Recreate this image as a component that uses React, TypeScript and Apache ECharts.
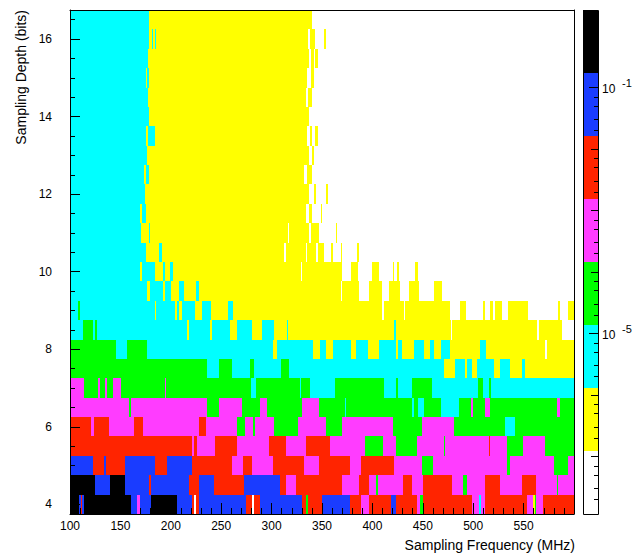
import React, { useEffect, useRef } from "react";
import * as echarts from "echarts";

// colour levels (ROOT COLZ palette, log z)
const W = 0, Y = 1, C = 2, G = 3, M = 4, R = 5, B = 6, K = 7;
const levelColors = ["#ffffff", "#ffff00", "#00ffff", "#00ff00", "#ff3cff", "#ff2400", "#1a3cff", "#000000"];

const freqMin = 100;
const freqMax = 600;
const depthMin = 3.75;
const depthMax = 16.75;
const depthHalf = 0.25;

const depthBins = [4.0, 4.5, 5.0, 5.5, 6.0, 6.5, 7.0, 7.5, 8.0, 8.5, 9.0, 9.5, 10.0, 10.5, 11.0, 11.5, 12.0, 12.5, 13.0, 13.5, 14.0, 14.5, 15.0, 15.5, 16.0, 16.5];

// per depth bin: runs of [start frequency (MHz), colour level]; each run lasts until the next start
const rowRuns: number[][][] = [
  // 4.0
  [[100, K], [108.5, B], [110.5, R], [112, B], [114, K], [160.3, B], [166.7, M], [169.2, B], [180, K], [206, B], [221.5, R], [223.2, W], [225, R], [228, B], [275, R], [280.5, W], [282.5, R], [288, B], [330, R], [334, G], [336.5, R], [350, B], [378, R], [389, M], [397, R], [418.5, B], [423.5, R], [444, M], [447.2, G], [450.5, R], [499, M], [505.5, C], [507.8, M], [512, R], [553, M], [559.2, Y], [561, G], [562.5, M], [569.7, R]],
  // 4.5
  [[100, K], [125, B], [139.7, K], [154.5, B], [178.7, R], [180.4, B], [218.2, R], [228, B], [243, R], [273, B], [308.2, R], [314.1, M], [324.7, R], [370.1, M], [387.2, R], [396.5, M], [403.7, G], [405.4, M], [430, R], [439.6, M], [450.5, R], [479.1, M], [490, G], [494, M], [512.1, R], [526.2, M], [548.3, R], [562.5, M], [582.9, G], [584.5, M]],
  // 5.0
  [[100, B], [122.4, R], [133.9, B], [135.6, R], [154.7, B], [184.3, R], [196.5, B], [221.2, R], [261, M], [272, R], [280.2, M], [300.9, R], [331.9, M], [347, R], [377.3, M], [388.9, R], [421.8, M], [449.5, G], [460, M], [534, G], [537, M], [580, G], [594.4, M]],
  // 5.5
  [[100, R], [221.2, M], [222.9, R], [226.2, M], [244.3, R], [266, M], [297.6, R], [314.1, M], [333.9, R], [357.6, M], [392.5, G], [410.9, M], [423, G], [443.9, M], [470.9, G], [472.5, M], [515.4, R], [517, M], [533.5, G], [549.9, M], [571.3, G]],
  // 6.0
  [[100, R], [120.8, M], [124.1, R], [138.9, M], [163.6, R], [172.5, M], [227.8, R], [235, M], [265.4, G], [273.6, M], [281.8, G], [283.5, M], [302.2, G], [326.3, M], [354.3, G], [370.1, M], [420.2, G], [449.5, M], [481.4, G], [531.8, C], [541.7, G]],
  // 6.5
  [[100, M], [158.6, G], [160.3, M], [236, G], [247.6, M], [270.3, G], [288.4, M], [295, G], [330.6, M], [347, G], [372.4, C], [374, G], [439.6, C], [441.2, G], [445.2, C], [451.1, G], [467.6, C], [485.7, G], [497.9, M], [499.9, G], [512.1, M], [516.3, G], [582.9, M], [586.2, G]],
  // 7.0
  [[100, M], [114.2, G], [127.3, M], [130, G], [134.9, M], [136.9, G], [142.2, M], [150.4, G], [194.2, M], [195.2, G], [279.2, C], [284.5, G], [328, C], [329.6, G], [338.5, C], [362.5, G], [411.9, C], [423.5, G], [425, C], [439.6, G], [459.4, C], [504.5, G], [509.8, C], [515.4, G], [517.7, C]],
  // 7.5
  [[100, G], [236, C], [247.6, G], [260.8, C], [278.5, G], [282.5, C], [309.8, G], [317.4, C], [470.9, Y], [482.4, C], [492.3, Y], [494, C], [498.9, Y], [503.8, C], [521, Y], [526.2, C], [536.8, Y], [548.3, C], [551.6, Y]],
  // 8.0
  [[100, G], [145.5, C], [157, G], [176.8, C], [301.6, Y], [304.9, C], [341.1, Y], [348.4, C], [354.3, Y], [360.9, C], [379, Y], [383.3, C], [395.5, Y], [407, C], [423.5, Y], [425, C], [429, Y], [441.2, C], [451.1, Y], [457, C], [461, Y], [467.6, C], [476.8, Y], [507.1, C], [513.1, Y], [571.3, W], [573, Y]],
  // 8.5
  [[100, C], [112.5, G], [123.1, C], [125, G], [126.7, C], [216.3, Y], [217.9, C], [239.3, Y], [241, C], [259.1, Y], [266, C], [280.2, Y], [290.1, C], [302.6, Y], [314.8, C], [316.4, Y], [421.8, C], [423.5, Y], [477.5, W], [479.1, Y], [563.1, W], [564.8, Y], [587.8, W]],
  // 9.0
  [[100, C], [108, G], [109.5, C], [184, Y], [185.7, C], [204, Y], [206.5, C], [208, Y], [211.3, C], [224.5, Y], [231.1, C], [240, Y], [256.5, C], [262, Y], [409.6, W], [411.3, Y], [431, W], [432.7, Y], [477.2, W], [487, Y], [492.7, W], [510.1, Y], [511.8, W], [516.7, Y], [520, W], [521.6, Y], [528.9, W], [534.8, Y], [554.6, W], [584.2, Y], [585.9, W], [594.1, Y]],
  // 9.5
  [[100, C], [176.4, Y], [179.7, C], [192.2, Y], [194, C], [200.5, Y], [208, C], [212.7, Y], [225.2, C], [227.5, Y], [368.5, W], [370.1, Y], [386.6, W], [396.5, Y], [409.6, W], [416, Y], [427.8, W], [436, Y], [445.9, W], [460.7, Y], [468.9, W]],
  // 10.0
  [[100, C], [169.2, Y], [171, C], [184, Y], [192.2, C], [194.5, Y], [198.8, C], [202.1, Y], [328.9, W], [330.6, Y], [370.1, W], [378.4, Y], [385.9, W], [399.8, Y], [407, W], [420.2, Y], [421.8, W], [424.8, Y], [426.8, W], [441.9, Y], [445.2, W]],
  // 10.5
  [[100, C], [175.8, Y], [188.3, C], [191.2, Y], [312.5, W], [314.1, Y], [333.9, W], [335.5, Y], [343.8, W], [346.4, Y], [352, W], [358.6, Y], [360.9, W], [368.5, Y], [370.1, W], [384.9, Y], [386.6, W]],
  // 11.0
  [[100, C], [170.8, Y], [178.1, C], [179.7, Y], [315.8, W], [317.4, Y], [337.2, W], [338.8, Y], [347, W], [363.5, Y], [365.2, W]],
  // 11.5
  [[100, C], [169.8, Y], [171.5, C], [175.8, Y], [333.9, W], [337.2, Y], [339.8, W], [348.7, Y], [350.3, W]],
  // 12.0
  [[100, C], [174.8, Y], [337.2, W], [342.1, Y], [343.8, W], [354.3, Y], [356, W]],
  // 12.5
  [[100, C], [173, Y], [175.5, C], [178, Y], [332.2, W], [335.5, Y], [340.5, W]],
  // 13.0
  [[100, C], [176.4, Y], [337.2, W], [339.8, Y], [342.1, W]],
  // 13.5
  [[100, C], [175.1, Y], [177.4, C], [184, Y], [335.5, W], [337.8, Y], [340.5, W], [343.1, Y], [346.4, W]],
  // 14.0
  [[100, C], [178, Y], [336.8, W]],
  // 14.5
  [[100, C], [177.5, Y], [334, W], [336.5, Y], [340.5, W]],
  // 15.0
  [[100, C], [175.1, Y], [176.4, C], [178.1, Y], [335.5, W], [338.8, Y], [342.1, W]],
  // 15.5
  [[100, C], [177.6, Y], [337.2, W], [339.5, Y], [341.8, W], [343.5, Y], [346.4, W]],
  // 16.0
  [[100, C], [178.4, Y], [181, C], [182, Y], [184, C], [185, Y], [336.5, W], [337.8, Y], [343.1, W], [352, Y], [353.6, W]],
  // 16.5
  [[100, C], [178.4, Y], [340.5, W]],
];

// axis ticks / labels
const xLabelValues = [100, 150, 200, 250, 300, 350, 400, 450, 500, 550];
const yMajorTicks = [4, 6, 8, 10, 12, 14, 16];
const yMinorTicks = [4.5, 5, 5.5, 6.5, 7, 7.5, 8.5, 9, 9.5, 10.5, 11, 11.5, 12.5, 13, 13.5, 14.5, 15, 15.5, 16.5];

// colour bar (log10 of z)
const zLogMin = -7.94;
const zLogMax = 0.257;
const colorbarLevels = [W, Y, C, G, M, R, B, K];
const cbDecades = [-8, -7, -6, -5, -4, -3, -2, -1, 0];
const cbMinorFactors = [2, 3, 5, 7];
const cbLabelExps = [-1, -5];

const FONT = "'Liberation Sans', Arial, Helvetica, sans-serif";

export default function App() {
  const ref = useRef<HTMLDivElement>(null);

  useEffect(() => {
    if (!ref.current) return;
    const chart = echarts.init(ref.current, undefined, { renderer: "svg" });

    const cellData: number[][] = [];
    rowRuns.forEach((runs, k) => {
      const depth = depthBins[k];
      runs.forEach((r, i) => {
        const end = i + 1 < runs.length ? runs[i + 1][0] : freqMax;
        if (r[1] === W) return;
        cellData.push([r[0], end, depth, r[1]]);
      });
    });

    const step = (zLogMax - zLogMin) / colorbarLevels.length;
    const cbData = colorbarLevels.map((lv, i) => [0, zLogMin + i * step, zLogMin + (i + 1) * step, lv]);

    const cbTicks: number[][] = [];
    cbDecades.forEach((d) => {
      if (d >= zLogMin && d <= zLogMax) cbTicks.push([1, d, cbLabelExps.includes(d) ? 9 : 7]);
      cbMinorFactors.forEach((f) => {
        const v = d + Math.log10(f);
        if (v >= zLogMin && v <= zLogMax) cbTicks.push([1, v, 4]);
      });
    });

    const axisCommon = {
      axisLine: { show: true, lineStyle: { color: "#000", width: 1 } },
      splitLine: { show: false },
      z: 10,
    };

    const option: any = {
      animation: false,
      backgroundColor: "#ffffff",
      textStyle: { fontFamily: FONT },
      grid: [
        { left: 70, top: 10, width: 504, height: 504, containLabel: false },
        { left: 583, top: 10, width: 15, height: 504, containLabel: false },
      ],
      xAxis: [
        {
          ...axisCommon,
          type: "value",
          gridIndex: 0,
          min: freqMin,
          max: freqMax,
          interval: 50,
          position: "bottom",
          axisTick: { show: true, inside: true, length: 11, lineStyle: { color: "#000" } },
          minorTick: { show: true, splitNumber: 5, length: 6, lineStyle: { color: "#000" } },
          axisLabel: {
            show: true,
            margin: 6,
            color: "#000",
            fontSize: 12,
            fontFamily: FONT,
            formatter: (v: number) => (xLabelValues.includes(v) ? String(v) : ""),
          },
        },
        {
          ...axisCommon,
          type: "value",
          gridIndex: 0,
          min: freqMin,
          max: freqMax,
          position: "top",
          axisTick: { show: false },
          axisLabel: { show: false },
        },
        {
          type: "value",
          gridIndex: 1,
          min: 0,
          max: 1,
          show: false,
        },
      ],
      yAxis: [
        {
          ...axisCommon,
          type: "value",
          gridIndex: 0,
          min: depthMin,
          max: depthMax,
          position: "left",
          axisTick: { show: true, inside: true, length: 10, customValues: yMajorTicks, lineStyle: { color: "#000" } },
          axisLabel: {
            show: true,
            customValues: yMajorTicks,
            margin: 18,
            color: "#000",
            fontSize: 12,
            fontFamily: FONT,
          },
        },
        {
          ...axisCommon,
          type: "value",
          gridIndex: 0,
          min: depthMin,
          max: depthMax,
          position: "left",
          axisLine: { show: false },
          axisTick: { show: true, inside: true, length: 5, customValues: yMinorTicks, lineStyle: { color: "#000" } },
          axisLabel: { show: false },
        },
        {
          ...axisCommon,
          type: "value",
          gridIndex: 0,
          min: depthMin,
          max: depthMax,
          position: "right",
          axisTick: { show: false },
          axisLabel: { show: false },
        },
        {
          type: "value",
          gridIndex: 1,
          min: zLogMin,
          max: zLogMax,
          show: false,
        },
      ],
      series: [
        {
          type: "custom",
          xAxisIndex: 0,
          yAxisIndex: 0,
          clip: true,
          encode: { x: [0, 1], y: 2 },
          data: cellData,
          renderItem: (_p: any, api: any) => {
            const a = api.coord([api.value(0), api.value(2) + depthHalf]);
            const b = api.coord([api.value(1), api.value(2) - depthHalf]);
            const l = Math.round(a[0]);
            const r = Math.round(b[0]);
            const t = Math.round(a[1]);
            const bt = Math.round(b[1]);
            return {
              type: "rect",
              shape: { x: l, y: t, width: Math.max(1, r - l), height: bt - t },
              style: { fill: levelColors[api.value(3)] },
            };
          },
        },
        {
          type: "custom",
          xAxisIndex: 2,
          yAxisIndex: 3,
          clip: false,
          encode: { x: 0, y: [1, 2] },
          data: cbData,
          renderItem: (_p: any, api: any) => {
            const a = api.coord([0, api.value(2)]);
            const b = api.coord([1, api.value(1)]);
            return {
              type: "rect",
              shape: { x: Math.round(a[0]), y: Math.round(a[1]), width: Math.round(b[0]) - Math.round(a[0]), height: Math.round(b[1]) - Math.round(a[1]) },
              style: { fill: levelColors[api.value(3)] },
            };
          },
        },
        {
          type: "custom",
          xAxisIndex: 2,
          yAxisIndex: 3,
          clip: false,
          z: 5,
          encode: { x: 0, y: 1 },
          data: cbTicks,
          renderItem: (_p: any, api: any) => {
            const p = api.coord([1, api.value(1)]);
            const yy = Math.round(p[1]) + 0.5;
            return {
              type: "line",
              shape: { x1: Math.round(p[0]) - api.value(2), y1: yy, x2: Math.round(p[0]), y2: yy },
              style: { stroke: "#000", lineWidth: 1 },
            };
          },
        },
        {
          type: "custom",
          xAxisIndex: 2,
          yAxisIndex: 3,
          clip: false,
          z: 6,
          encode: { x: 0, y: [1, 2] },
          data: [[0, zLogMin, zLogMax]],
          renderItem: (_p: any, api: any) => {
            const a = api.coord([0, api.value(2)]);
            const b = api.coord([1, api.value(1)]);
            return {
              type: "rect",
              shape: { x: Math.round(a[0]) + 0.5, y: Math.round(a[1]) + 0.5, width: Math.round(b[0]) - Math.round(a[0]), height: Math.round(b[1]) - Math.round(a[1]) },
              style: { fill: "none", stroke: "#000", lineWidth: 1 },
            };
          },
        },
        {
          type: "custom",
          xAxisIndex: 2,
          yAxisIndex: 3,
          clip: false,
          z: 6,
          encode: { x: 0, y: 1 },
          data: cbLabelExps.map((e) => [1, e]),
          renderItem: (_p: any, api: any) => {
            const p = api.coord([1, api.value(1)]);
            return {
              type: "group",
              children: [
                {
                  type: "text",
                  x: p[0] + 4,
                  y: p[1] + 2,
                  style: { text: "10", fill: "#000", font: `12px ${FONT}`, align: "left", verticalAlign: "middle" },
                },
                {
                  type: "text",
                  x: p[0] + 24,
                  y: p[1] - 4,
                  style: { text: "-" + String(Math.abs(api.value(1))), fill: "#000", font: `11px ${FONT}`, align: "left", verticalAlign: "middle" },
                },
              ],
            };
          },
        },
      ],
      graphic: [
        {
          type: "text",
          x: 21,
          y: 10,
          rotation: Math.PI / 2,
          style: { text: "Sampling Depth (bits)", fill: "#000", font: `14px ${FONT}`, align: "right", verticalAlign: "middle" },
        },
        {
          type: "text",
          x: 575,
          y: 545,
          style: { text: "Sampling Frequency (MHz)", fill: "#000", font: `14px ${FONT}`, align: "right", verticalAlign: "middle" },
        },
      ],
    };

    chart.setOption(option);
    return () => chart.dispose();
  }, []);

  return <div ref={ref} style={{ position: "absolute", left: 0, top: 0, width: 637, height: 556 }} />;
}
